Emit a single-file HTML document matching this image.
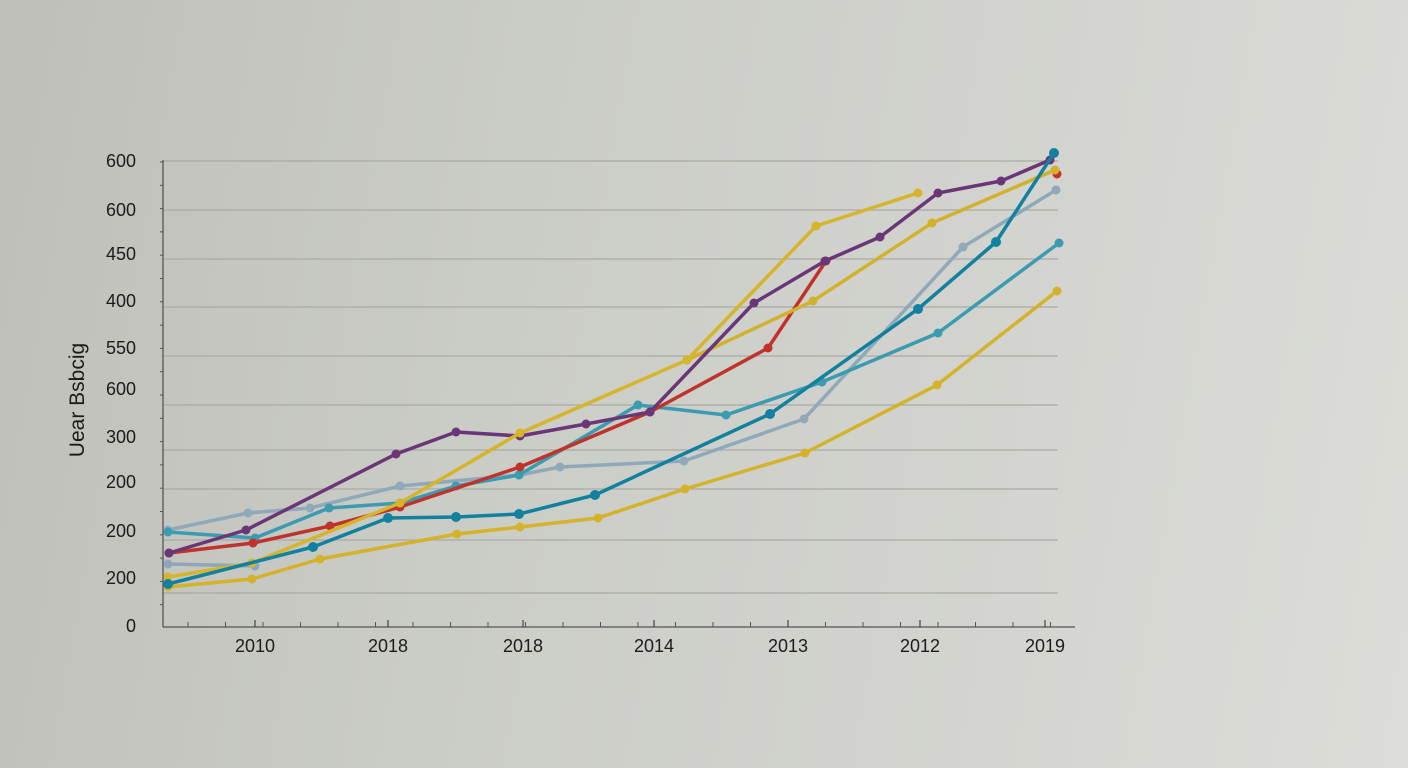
<!DOCTYPE html>
<html><head><meta charset="utf-8">
<style>
html,body{margin:0;padding:0;width:1408px;height:768px;overflow:hidden;}
body{background:linear-gradient(100deg,#bfbfb9 0%,#caccc6 35%,#d3d4cf 70%,#dcddd8 100%);font-family:"Liberation Sans","DejaVu Sans",sans-serif;}
svg{position:absolute;left:0;top:0;}
</style></head>
<body>
<svg id="chart" width="1408" height="768"></svg>
<script>
// Data (x: position units 0..912 along the category axis, y: value units 0..470)
const yTickLabels = ["600","600","450","400","550","600","300","200","200","200","0"];
const yTickValues = [466,417,373,326,279,238,190,145,96,49,1];
const gridValues = [466,417,368,320,271,222,177,138,87,34];
const xTickLabels = ["2010","2018","2018","2014","2013","2012","2019"];
const xTickValues = [92,225,360,491,625,757,882];

const purpleX = [6,83,233,293,357,423,487,591,662,717,775,838,887];
const purpleY = [74,97,173,195,191,203,215,324,366,390,434,446,467];
const yellowAX = [5,89,237,357,524,653,755];
const yellowAY = [50,64,124,194,267,401,434];
const yellowBX = [524,650,769,892];
const yellowBY = [267,326,404,457];
const yellowCX = [5,89,157,294,357,435,522,642,774,894];
const yellowCY = [40,48,68,93,100,109,138,174,242,336];
const redX = [6,90,167,237,357,487,605,663];
const redY = [74,84,101,120,160,215,279,366];
const redTailX = [894];
const redTailY = [453];
const tealX = [5,92,166,237,293,356,475,563,659,775,896];
const tealY = [95,89,119,124,141,152,222,212,245,294,384];
const blueX = [5,150,225,293,356,432,607,755,833,891];
const blueY = [43,80,109,110,113,132,213,318,385,474];
const greyX = [5,85,147,237,356,397,521,641,800,893];
const greyY = [97,114,119,141,152,160,166,208,380,437];
const grey2X = [5,92];
const grey2Y = [63,61];

const X0=163, X1=1075, Y0=627, Y1=157;
const xs = v => X0 + v*(X1-X0)/912;
const ys = v => Y0 - v*(Y0-Y1)/470;
const NS="http://www.w3.org/2000/svg";
const svg=document.getElementById('chart');
function mk(tag, attrs){const e=document.createElementNS(NS,tag);for(const k in attrs)e.setAttribute(k,attrs[k]);svg.appendChild(e);return e;}

gridValues.forEach((v,i)=>{
  const l=mk('line',{x1:X0,x2:1058,y1:ys(v),y2:ys(v),stroke:'#a9aaa5','stroke-width':1.3});
  
  
});
for(let i=0;i<20;i++){
  const y=Y1+5+i*23.3;
  const t=mk('line',{x1:X0-3,x2:X0,y1:y,y2:y,stroke:'#555','stroke-width':1});
  
  
}
for(let i=0;i<24;i++){
  const x=X0+25+i*37.5;
  const t=mk('line',{x1:x,x2:x,y1:Y0-5,y2:Y0,stroke:'#555','stroke-width':1});
  
  
}
const ya=mk('line',{x1:X0,x2:X0,y1:160,y2:Y0,stroke:'#555','stroke-width':1.3});


const xa=mk('line',{x1:X0,x2:X1,y1:Y0,y2:Y0,stroke:'#555','stroke-width':1.3});



yTickLabels.forEach((s,i)=>{
  const t=mk('text',{x:136,y:ys(yTickValues[i])+6,'text-anchor':'end','font-size':18,fill:'#1c1c1c'});
  t.textContent=s;
  
  
});
xTickLabels.forEach((s,i)=>{
  const x=xs(xTickValues[i]);
  const tk=mk('line',{x1:x,x2:x,y1:Y0-7,y2:Y0,stroke:'#444','stroke-width':1.2});
  
  
  const t=mk('text',{x:x,y:652,'text-anchor':'middle','font-size':18,fill:'#1c1c1c'});
  t.textContent=s;
  
  
});
const yt=mk('text',{x:0,y:0,transform:'translate(84,400) rotate(-90)','text-anchor':'middle','font-size':21,fill:'#1c1c1c'});
yt.textContent='Uear Bsbcig';



function series(name,X,Y,color,w,r,line){
  if(line!==false && X.length>1){
    const p=mk('polyline',{points:X.map((x,i)=>xs(x)+','+ys(Y[i])).join(' '),fill:'none',stroke:color,'stroke-width':w,'stroke-linejoin':'round','stroke-linecap':'round'});
    
    
  }
  X.forEach((x,i)=>{
    const c=mk('circle',{cx:xs(x),cy:ys(Y[i]),r:r,fill:color});
    
    
  });
}
series('grey-series-2',grey2X,grey2Y,'#8fa5b8',3.5,4.5);
series('grey-series',greyX,greyY,'#8fa9ba',3.5,4.5);
series('yellow-series-c',yellowCX,yellowCY,'#d4b22a',3.5,4.5);
series('teal-series',tealX,tealY,'#3b9bb1',3.5,4.5);
series('red-series',redX,redY,'#c0332a',3.5,4.5);
series('red-tail',redTailX,redTailY,'#c0332a',3.5,4.5,false);
series('yellow-series-b',yellowBX,yellowBY,'#d2b22c',3.5,4.5);
series('purple-series',purpleX,purpleY,'#6b3678',3.5,4.5);
series('yellow-series-a',yellowAX,yellowAY,'#d6b52a',3.5,4.5);
series('blue-series',blueX,blueY,'#12809f',3.5,5);
</script>
</body></html>
